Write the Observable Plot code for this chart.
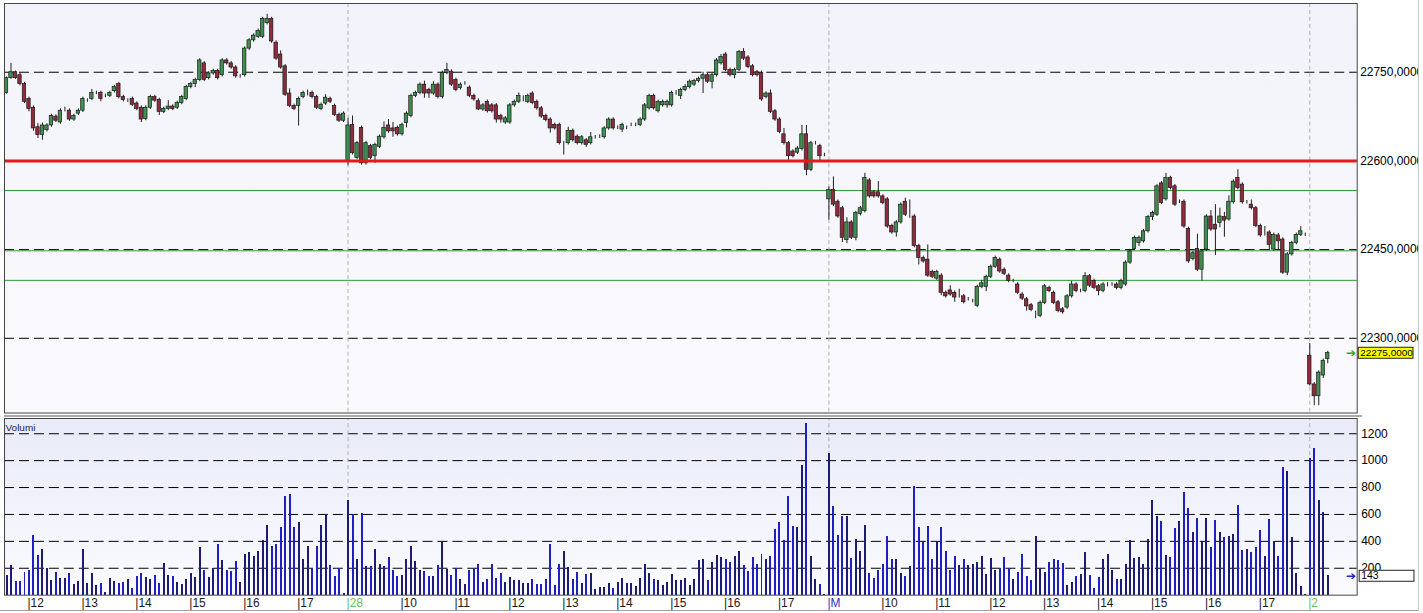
<!DOCTYPE html>
<html>
<head>
<meta charset="utf-8">
<script src="https://cdn.jsdelivr.net/npm/d3@7"></script>
<script src="https://cdn.jsdelivr.net/npm/@observablehq/plot@0.6"></script>
<style>
  html, body { margin: 0; padding: 0; background: #fff; }
  #wrap { position: relative; width: 1418px; height: 610px; overflow: hidden; border-right: 1px solid #c8c8c8; border-bottom: 1px solid #a0a0a0; }
  #sep { position: absolute; left: 4px; top: 415px; width: 1358px; height: 2px; background: #a9a9a9; }
  #price { position: absolute; left: 0; top: 0; }
  #vol { position: absolute; left: 0; top: 417px; }
  svg text { font-family: "Liberation Sans", Arial, sans-serif; }
</style>
</head>
<body>
<div id="wrap"><div id="price"></div><div id="sep"></div><div id="vol"></div></div>
<script>
// ---------- DATA (5-minute candles, four sessions) ----------
const openA = [22715,22740,22750,22745,22730,22705,22690,22657,22644,22652,
22660,22675,22665,22685,22685,22670,22680,22685,22702,22705,
22715,22715,22710,22710,22718,22730,22708,22702,22705,22697,
22690,22671,22690,22708,22703,22683,22688,22692,22690,22698,
22705,22725,22730,22737,22765,22740,22748,22752,22745,22770,
22765,22758,22743,22745,22790,22804,22810,22810,22833,22840,
22800,22780,22760,22714,22693,22693,22708,22713,22715,22708,
22688,22697,22705,22693,22678,22668];
const closeA = [22740,22750,22740,22730,22700,22688,22655,22644,22660,22660,
22676,22668,22685,22685,22670,22676,22685,22705,22702,22715,
22715,22705,22710,22715,22725,22708,22703,22702,22695,22688,
22670,22690,22708,22702,22683,22688,22692,22688,22698,22708,
22725,22730,22737,22770,22737,22748,22752,22740,22770,22765,
22758,22743,22743,22790,22804,22812,22820,22840,22840,22802,
22773,22758,22712,22693,22688,22705,22715,22713,22708,22690,
22695,22707,22700,22678,22668,22680];
const upWickA = [2,15,2,3,3,3,3,6,4,3, 3,3,3,6,3,3,3,3,3,6, 3,3,3,3,3,3,3,3,3,3, 3,3,3,3,3,3,10,3,3,3,
3,3,3,3,3,3,3,3,3,3, 3,3,3,3,3,3,3,3,8,3, 3,6,3,8,3,3,3,7,3,3, 3,5,3,3,3,3];
const lowWickA = [2,2,2,3,3,5,5,6,9,3, 3,3,3,2,3,3,3,3,3,3, 3,5,3,3,3,3,3,3,3,3, 5,3,3,3,6,3,3,3,3,3,
3,3,6,3,3,3,3,3,3,3, 3,3,3,3,3,3,3,3,3,3, 3,3,3,3,3,34,3,3,3,3, 3,3,3,3,3,3];
const volumeA = [145,217,101,101,168,180,447,294,343,195,
106,168,126,121,158,76,101,336,86,158,
71,86,22,121,101,86,91,113,47,138,
158,128,116,145,86,232,145,138,91,76,
113,158,128,353,180,131,195,373,254,187,
175,247,94,299,316,291,323,410,521,365,
373,501,736,750,506,543,262,360,200,365,
521,600,217,138,200,15];

const openB = [22600,22661,22605,22656,22596,22625,22608,22624,22640,22660,
22655,22656,22645,22664,22676,22710,22715,22729,22720,22714,
22729,22708,22749,22751,22737,22723,22731,22724,22710,22701,
22687,22700,22694,22694,22676,22665,22665,22694,22700,22705,
22700,22714,22700,22689,22676,22670,22661,22661,22630,22630,
22651,22641,22630,22635,22630,22640,22641,22640,22655,22670,
22656,22653,22656,22661,22661,22661,22670,22689,22710,22684,
22694,22694,22694,22715,22710,22720,22725,22729,22735,22739,
22745,22734,22745,22765,22780,22754,22745,22754,22784,22775,
22760,22750,22749,22708,22714,22684,22670,22645,22630,22616,
22614,22620,22645,22585,22630,22625,22610];
const closeB = [22660,22613,22630,22596,22630,22605,22627,22641,22656,22650,
22650,22645,22661,22680,22710,22715,22729,22714,22714,22729,
22708,22749,22754,22729,22720,22729,22731,22710,22704,22687,
22694,22684,22684,22670,22670,22672,22694,22700,22710,22705,
22710,22698,22689,22675,22669,22655,22655,22630,22630,22651,
22635,22630,22640,22627,22640,22640,22641,22655,22670,22655,
22656,22661,22656,22661,22661,22670,22694,22710,22689,22700,
22700,22700,22715,22715,22720,22725,22734,22735,22739,22745,
22734,22745,22770,22776,22754,22745,22754,22784,22773,22759,
22745,22745,22704,22714,22683,22670,22649,22630,22608,22608,
22621,22645,22585,22630,22630,22608,22610];
const upWickB = [12,15,3,3,3,3,3,3,10,10, 10,3,3,3,3,3,3,6,3,5, 3,3,11,3,3,3,3,3,3,4, 3,3,3,3,3,3,3,3,5,5,
3,3,3,3,3,3,3,3,3,6, 3,3,3,3,8,3,3,3,3,3, 3,3,3,3,3,3,3,3,3,3, 3,3,3,4,3,4,3,3,3,5,
3,3,3,4,3,3,3,3,6,3, 3,3,3,3,6,3,3,10,3,3, 3,15,15,3,3,3,3];
const lowWickB = [8,3,3,3,3,3,12,3,3,3, 10,3,3,8,3,3,3,8,8,3, 3,3,3,3,3,3,3,3,3,2, 3,3,3,6,6,3,3,3,3,5,
3,3,3,3,3,8,3,3,20,3, 3,3,3,4,3,3,3,3,3,3, 3,5,3,3,3,3,3,3,3,3, 3,5,3,4,6,3,3,3,3,25,
3,12,3,3,3,3,6,3,3,3, 3,3,3,3,3,3,3,3,8,3, 3,3,10,3,3,10,3];
const volumeB = [706,602,262,607,212,212,343,225,212,279,
180,138,145,262,360,249,187,175,138,138,
217,402,192,145,200,113,81,187,192,225,
94,118,229,126,163,96,133,108,108,89,
84,118,81,76,118,378,69,225,328,207,
118,170,84,150,163,39,59,59,89,52,
96,126,84,84,64,126,225,158,118,106,
69,96,155,106,106,126,69,118,254,262,
106,244,294,281,262,244,286,328,217,175,
281,229,304,262,291,491,541,410,736,513,
506,965,1279,291,113,81,3];

const openC = [22535,22551,22531,22520,22466,22496,22470,22510,22515,22567,
22547,22547,22540,22535,22490,22479,22496,22531,22506,22506,
22456,22436,22433,22412,22401,22406,22377,22381,22377,22371,
22371,22366,22363,22355,22387,22387,22404,22421,22433,22416,
22406,22397,22391,22374,22366,22356,22343,22338,22360,22385,
22377,22361,22349,22352,22371,22391,22380,22380,22405,22397,
22388,22380,22391,22391,22391,22385,22391,22428,22451,22461,
22464,22481,22505,22509,22562,22535,22571,22557,22531,22531,
22485,22434,22451,22416,22450,22506,22492,22495,22505,22501,
22530,22571,22560,22530,22526,22520,22490,22481,22479,22450,
22474,22467,22411,22442,22461,22475,22475];
const closeC = [22551,22526,22506,22470,22496,22470,22512,22520,22571,22540,
22540,22540,22529,22489,22479,22496,22526,22509,22506,22456,
22436,22430,22406,22404,22412,22377,22371,22374,22369,22371,
22361,22366,22363,22387,22393,22404,22421,22436,22413,22409,
22397,22397,22377,22367,22354,22348,22343,22360,22388,22380,
22360,22346,22344,22371,22391,22380,22380,22405,22389,22385,
22380,22391,22391,22391,22385,22397,22428,22447,22470,22470,
22481,22505,22512,22557,22529,22571,22554,22526,22531,22489,
22430,22444,22416,22447,22506,22484,22484,22506,22499,22531,
22565,22554,22530,22530,22520,22490,22474,22481,22458,22475,
22464,22411,22442,22461,22475,22481,22475];
const upWickC = [5,22,3,3,8,3,3,3,8,3, 3,18,3,3,3,3,3,6,28,3, 3,3,25,3,3,3,3,8,3,12, 3,3,3,3,5,3,3,3,3,3,
3,3,3,3,3,3,3,3,3,3, 3,3,3,3,5,3,3,6,3,3, 3,3,3,3,3,3,3,3,3,3, 3,3,3,3,3,8,3,3,3,3,
3,3,25,3,3,10,34,14,8,10, 3,14,3,3,8,3,3,8,3,3, 3,3,3,3,3,8,3];
const lowWickC = [35,3,3,8,6,3,5,3,3,3, 3,3,3,3,3,8,3,3,3,3, 12,3,3,3,3,5,3,3,8,3, 3,3,3,3,3,8,3,3,3,3,
3,3,3,3,8,3,10,3,3,3, 3,3,3,3,3,3,3,3,3,3, 8,3,4,3,3,3,3,3,3,6, 3,3,6,3,3,3,3,3,3,3,
3,3,3,19,3,3,44,8,28,3, 3,3,3,3,3,3,3,8,10,3, 15,3,5,3,3,3,3];
const volumeC = [1052,657,447,587,587,269,417,323,521,158,
126,180,225,439,262,262,158,138,212,810,
501,390,513,262,397,501,328,187,286,217,
262,217,225,242,286,150,269,187,200,279,
200,113,168,299,138,106,439,200,168,244,
262,254,232,69,94,138,150,316,145,52,
131,262,299,183,118,118,225,410,269,279,
225,417,706,582,550,294,279,496,550,760,
644,464,570,402,570,353,558,464,429,439,
454,669,331,336,316,353,479,286,565,397,
286,948,921,427,158,64,2];

const openD = [22270,22222,22202,22237,22265];
const closeD = [22222,22202,22242,22262,22275];
const upWickD = [21,3,3,3,3];
const lowWickD = [3,16,16,5,8];
const volumeD = [1015,1089,706,617,143];

// axis / reference values
const priceGrid = [22750, 22600, 22450, 22300];
const supportLevel = [22600];
const greenLevels = [22550, 22448, 22398];
const volumeGrid = [200, 400, 600, 800, 1000, 1200];
const tickIndex = [5,17,29,41,53,65, 76,88,100,112,124,136,148,160,172, 183,195,207,219,231,243,255,267,279, 290];
const tickLabel = ["12","13","14","15","16","17", "28","10","11","12","13","14","15","16","17", "M","10","11","12","13","14","15","16","17", "2"];
const sessionStart = [76, 183, 290];

// ---------- build table ----------
const open = [...openA, ...openB, ...openC, ...openD];
const close = [...closeA, ...closeB, ...closeC, ...closeD];
const upWick = [...upWickA, ...upWickB, ...upWickC, ...upWickD];
const lowWick = [...lowWickA, ...lowWickB, ...lowWickC, ...lowWickD];
const volume = [...volumeA, ...volumeB, ...volumeC, ...volumeD];
const candles = open.map((o, i) => ({
  i, o, c: close[i],
  h: Math.max(o, close[i]) + upWick[i],
  l: Math.min(o, close[i]) - lowWick[i],
  v: volume[i],
  up: close[i] >= o
}));
const last = candles[candles.length - 1];
const ticks = tickIndex.map((i, k) => ({i, label: tickLabel[k], date: sessionStart.includes(i)}));

const xDomain = [-0.443, 300.55];
const xMax = xDomain[1];
const fmt4 = v => v.toFixed(4).replace(".", ",");
const GREEN = "#3f8f4f", RED = "#8f2b3b";

function defs() {
  const d = d3.create("svg:defs");
  const g1 = d.append("linearGradient").attr("id", "volbg").attr("x1", 0).attr("x2", 0).attr("y1", 0).attr("y2", 1);
  g1.append("stop").attr("offset", "0%").attr("stop-color", "#e8ebf8");
  g1.append("stop").attr("offset", "100%").attr("stop-color", "#fbfbff");
  const g2 = d.append("linearGradient").attr("id", "pricebg").attr("x1", 0).attr("x2", 0).attr("y1", 0).attr("y2", 1);
  g2.append("stop").attr("offset", "0%").attr("stop-color", "#f2f2fa");
  g2.append("stop").attr("offset", "100%").attr("stop-color", "#fafafe");
  return d.node();
}

const pricePlot = Plot.plot({
  width: 1423, height: 415,
  marginTop: 3, marginBottom: 1, marginLeft: 4, marginRight: 61.5,
  x: {type: "linear", domain: xDomain, axis: null},
  y: {domain: [22173.6, 22866.3], axis: null},
  style: {background: "transparent", fontSize: "12px"},
  marks: [
    defs,
    Plot.frame({fill: "url(#pricebg)"}),
    Plot.ruleY(priceGrid, {stroke: "#000", strokeDasharray: "10,5", strokeWidth: 1}),
    Plot.ruleX(sessionStart, {stroke: "#b0b0b0", strokeDasharray: "4,3"}),
    Plot.ruleY(greenLevels, {stroke: "#2f9a36", strokeWidth: 1}),
    Plot.ruleX(candles, {x: "i", y1: "l", y2: "h", stroke: "#1e1e1e", strokeWidth: 1}),
    Plot.rect(candles, {x1: d => d.i - 0.38, x2: d => d.i + 0.38, y1: "o", y2: "c",
      fill: d => d.up ? GREEN : RED, stroke: "#1a1a1a", strokeWidth: 0.7}),
    Plot.ruleY(supportLevel, {stroke: "#e31b1b", strokeWidth: 3}),
    Plot.frame({stroke: "#454545"}),
    Plot.text(priceGrid, {x: () => xMax, y: d => d, text: d => fmt4(d), textAnchor: "start", dx: 3, fill: "#000"}),
    Plot.text([last], {x: () => xMax, y: "c", text: ["➔"], dx: -6, fill: "#22aa22", fontSize: 12, fontFamily: "DejaVu Sans"}),
    Plot.text([last], {x: () => xMax, y: "c", text: d => fmt4(d.c), textAnchor: "start", dx: 3, fill: "#000", fontSize: 10})
  ]
});

const volPlot = Plot.plot({
  width: 1423, height: 196,
  marginTop: 1, marginBottom: 17.7, marginLeft: 4, marginRight: 61.5,
  x: {type: "linear", domain: xDomain, axis: null},
  y: {domain: [0, 1313.3], axis: null},
  style: {background: "transparent", fontSize: "12px"},
  marks: [
    defs,
    Plot.frame({fill: "url(#volbg)"}),
    Plot.ruleY(volumeGrid, {stroke: "#000", strokeDasharray: "10,5", strokeWidth: 1}),
    Plot.ruleX(sessionStart, {stroke: "#b0b0b0", strokeDasharray: "4,3", y1: 0, y2: 1313.3}),
    Plot.ruleX(candles, {x: "i", y1: 0, y2: "v", stroke: d => d.up ? "#1c1c72" : "#1f1fc4", strokeWidth: 2, shapeRendering: "crispEdges"}),
    Plot.frame({stroke: "#454545"}),
    Plot.text(["Volumi"], {frameAnchor: "top-left", dx: 1, dy: 5, text: d => d, fill: "#22225a", fontSize: 10}),
    Plot.text(volumeGrid, {x: () => xMax, y: d => d, text: d => String(d), textAnchor: "start", dx: 4, fill: "#000"}),
    Plot.text([last], {x: () => xMax, y: "v", text: ["➔"], dx: -6, fill: "#1f1fc4", fontSize: 12, fontFamily: "DejaVu Sans"}),
    Plot.text([last], {x: () => xMax, y: "v", text: d => String(d.v), textAnchor: "start", dx: 4, fill: "#000", fontSize: 10.5}),
    Plot.text(ticks, {x: "i", y: () => 0, text: d => "|" + d.label, textAnchor: "start", dx: -1.5, dy: 8.5,
      fill: d => d.label === "M" ? "#3535c8" : d.date ? "#66c266" : "#1a1a1a"})
  ]
});

document.getElementById("price").append(pricePlot);
document.getElementById("vol").append(volPlot);

// label boxes behind the last-value texts
function boxFor(svg, content, fill) {
  d3.select(svg).selectAll("text").filter(function () { return this.textContent === content; }).each(function () {
    const b = this.getBBox();
    const r = d3.select(this.parentNode).insert("rect", () => this)
      .attr("x", b.x - 2).attr("y", b.y).attr("width", 55).attr("height", b.height)
      .attr("fill", fill).attr("stroke", "#222").attr("stroke-width", 1);
    const t = this.getAttribute("transform");
    if (t) r.attr("transform", t);
  });
}
boxFor(pricePlot, fmt4(last.c), "#ffff00");
boxFor(volPlot, String(last.v), "#ffffff");
</script>
</body>
</html>
